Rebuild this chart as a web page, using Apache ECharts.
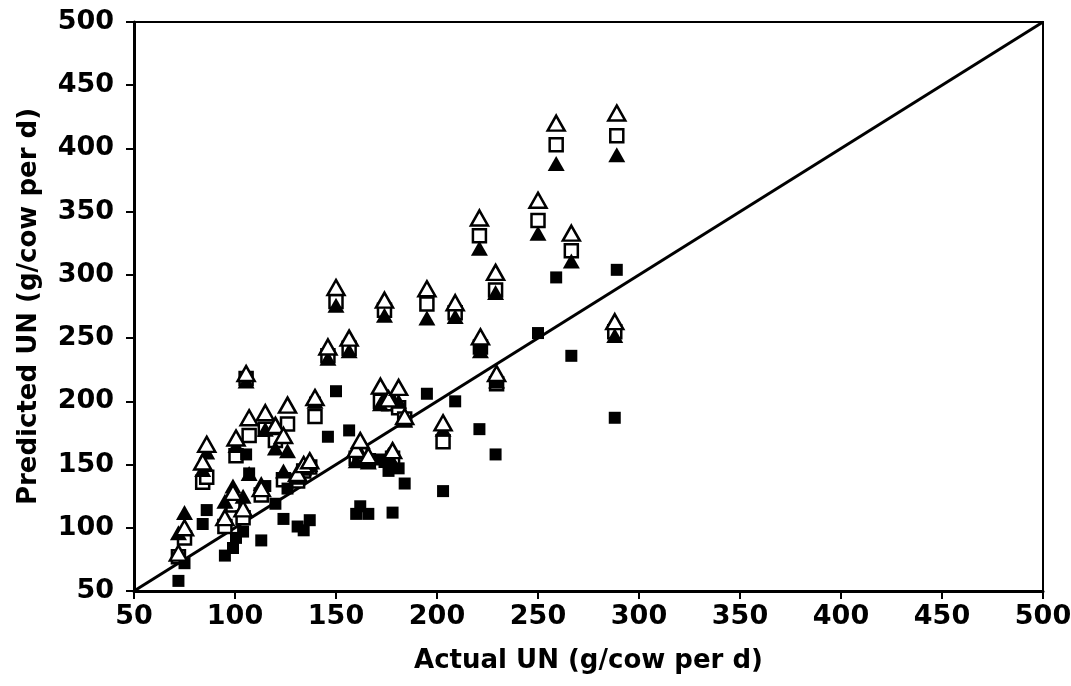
<!DOCTYPE html>
<html>
<head>
<meta charset="utf-8">
<script src="https://cdn.jsdelivr.net/npm/echarts@6/dist/echarts.min.js"></script>
<style>
  html, body { margin: 0; padding: 0; background: #fff; }
  #main { width: 1071px; height: 686px; }
</style>
</head>
<body>
<div id="main"></div>
<script>
// actual UN per study (g/cow per d)
var actualUN = [72, 75, 84, 86, 95, 99, 100.5, 104, 105.5, 107, 113, 115, 120, 124, 126, 131, 134, 137, 139.6,
  146, 150, 156.5, 160, 162, 166, 172, 174, 176, 178, 181, 184, 195, 203, 209, 221, 221.5, 229, 229.5, 250, 259, 266.5, 289, 288];
// predicted UN, four models
var predOpenTri = [80, 100, 152, 166, 108, 128, 171, 115, 222, 187, 131, 191, 181, 173, 197, 143, 150, 153, 203,
  243, 290, 250, 162, 169, 157, 212, 280, 202, 161, 211, 188, 289, 183, 278, 345, 251, 302, 222, 359, 420, 333, 428, 263];
var predOpenSq = [77, 92, 136, 140, 101, 118, 157, 108, 218, 173, 126, 178, 169, 138, 182, 137, 145, 148, 188,
  236, 279, 242, 155, 158, 153, 200, 272, 198, 155, 195, 186, 277, 168, 270, 331, 243, 288, 214, 343, 403, 319, 410, 255];
var predFilledTri = [96, 112, 146, 160, 121, 133, 165, 125, 216, 143, 135, 178, 163, 145, 161, 140, 147, 150, 200,
  234, 276, 240, 153, 160, 152, 198, 268, 158, 152, 200, 185, 266, 178, 267, 321, 240, 286, 216, 333, 388, 311, 395, 252];
var predFilledSq = [58, 72, 103, 114, 78, 84, 92, 97, 158, 143, 90, 133, 119, 107, 131, 101, 98, 106, 199,
  172, 208, 177, 111, 117, 111, 154, 152, 145, 112, 147, 135, 206, 129, 200, 178, 243, 158, 215, 254, 298, 236, 304, 187];
var identity = [[50, 50], [500, 500]];

function pairs(ys) {
  return actualUN.map(function (x, i) { return [x, ys[i]]; });
}

var myChart = echarts.init(document.getElementById('main'));
var font = 'DejaVu Sans, sans-serif';
var axisCommon = {
  type: 'value',
  min: 50,
  max: 500,
  interval: 50,
  nameLocation: 'middle',
  nameTextStyle: { color: '#000', fontSize: 26, fontWeight: 'bold', fontFamily: font },
  axisLine: { show: true, onZero: false, lineStyle: { color: '#000', width: 3 } },
  axisTick: { show: true, length: 8, lineStyle: { color: '#000', width: 2 } },
  axisLabel: { color: '#000', fontSize: 27, fontWeight: 'bold', fontFamily: font },
  splitLine: { show: false }
};

var option = {
  backgroundColor: '#fff',
  animation: false,
  grid: {
    left: 134, right: 28, top: 22, bottom: 95,
    outerBoundsMode: 'none',
    containLabel: false,
    show: true, borderColor: '#000', borderWidth: 2
  },
  xAxis: Object.assign({}, axisCommon, {
    name: 'Actual UN (g/cow per d)',
    nameGap: 57,
    axisLabel: Object.assign({}, axisCommon.axisLabel, { margin: 12 })
  }),
  yAxis: Object.assign({}, axisCommon, {
    name: 'Predicted UN (g/cow per d)',
    nameGap: 92,
    axisLabel: Object.assign({}, axisCommon.axisLabel, { margin: 20 })
  }),
  series: [
    {
      type: 'line',
      data: identity,
      symbol: 'none',
      lineStyle: { color: '#000', width: 3 },
      z: 1
    },
    {
      type: 'scatter',
      data: pairs(predOpenSq),
      symbol: 'rect',
      symbolSize: 13,
      itemStyle: { color: '#fff', borderColor: '#000', borderWidth: 2.5, opacity: 1 },
      z: 2
    },
    {
      type: 'scatter',
      data: pairs(predFilledTri),
      symbol: 'triangle',
      symbolSize: [17, 15],
      itemStyle: { color: '#000', opacity: 1 },
      z: 3
    },
    {
      type: 'scatter',
      data: pairs(predFilledSq),
      symbol: 'rect',
      symbolSize: 12,
      itemStyle: { color: '#000', opacity: 1 },
      z: 4
    },
    {
      type: 'scatter',
      data: pairs(predOpenTri),
      symbol: 'triangle',
      symbolSize: [17, 15],
      itemStyle: { color: '#fff', borderColor: '#000', borderWidth: 2.5, opacity: 1 },
      z: 5
    }
  ]
};
myChart.setOption(option);
</script>
</body>
</html>
